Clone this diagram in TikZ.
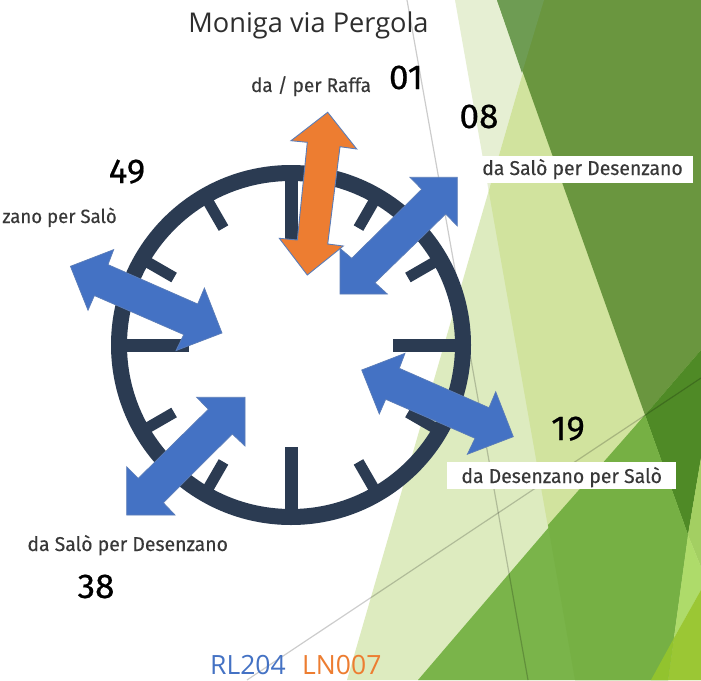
\documentclass[tikz,border=0pt]{standalone}
\usepackage{fontspec}
\usetikzlibrary{calc}
\setmainfont{Fira Sans}
\newfontfamily\titlefont{Open Sans}
\newfontfamily\labfont[FakeStretch=0.97,FakeBold=0.25]{Fira Sans}
\newfontfamily\numfont[FakeStretch=1.02,FakeBold=0.5]{Fira Sans}
\definecolor{ringcol}{HTML}{2B3B52}
\definecolor{bluecol}{HTML}{4472C4}
\definecolor{orangecol}{HTML}{ED7D31}
\definecolor{edgecol}{HTML}{5B7DB8}
\definecolor{gA}{HTML}{DDEBBF}
\definecolor{gB}{HTML}{E6EFD3}
\definecolor{gC}{HTML}{D1E39E}
\definecolor{gD}{HTML}{6A963F}
\definecolor{gE}{HTML}{6E9C53}
\definecolor{gF}{HTML}{4F8A26}
\definecolor{gG}{HTML}{7AB44A}
\definecolor{gH}{HTML}{76B044}
\definecolor{gI}{HTML}{A3CF62}
\definecolor{gJ}{HTML}{AEDB6A}
\definecolor{gK}{HTML}{9BC734}
\definecolor{gL}{HTML}{92C32E}
\tikzset{
  bg/.style={fill=#1,draw=none},
  thinline/.style={draw=black,opacity=0.2,line width=1.2pt},
  major/.style={draw=ringcol,line width=13pt},
  minor/.style={draw=ringcol,line width=11pt},
  bluearrow/.style={fill=bluecol,draw=edgecol,line width=0.7pt,line join=miter},
  orangearrow/.style={fill=orangecol,draw=edgecol,line width=0.9pt,line join=miter},
  lab/.style={font=\labfont\fontsize{20}{22}\selectfont,text=black!78,inner sep=0pt,anchor=base},
  num/.style={font=\numfont\fontsize{34.5}{36}\selectfont,text=black,inner sep=0pt,anchor=base},
  boxed/.style={fill=white,inner sep=0pt,minimum height=27pt},
  route/.style={font=\titlefont\fontsize{26.5}{30}\selectfont,inner sep=0pt,anchor=base west},
}
\begin{document}
\begin{tikzpicture}[x=1pt,y=-1pt]
\useasboundingbox (0,0) rectangle (701,680);
\fill[white] (0,0) rectangle (701,680);
% background
\fill[bg=gA] (347,680) -- (544,0) -- (701,0) -- (701,680) -- cycle;
\fill[bg=gB] (455,0) -- (544,0) -- (488.7,191) -- cycle;
\fill[bg=gC] (488.7,191) -- (544,0) -- (701,0) -- (701,680) -- (575,680) -- cycle;
\fill[bg=gD] (497,0) -- (701,0) -- (701,350) -- (645,415) -- cycle;
\fill[bg=gE] (497,0) -- (544,0) -- (522,73) -- cycle;
\fill[bg=gF] (645,415) -- (701,350) -- (701,458) -- (688,535) -- cycle;
\fill[bg=gG] (418,680) -- (645,415) -- (688,535) -- (668,680) -- cycle;
\fill[bg=gH] (548,525) -- (575,680) -- (668,680) -- (688,535) -- (645,415) -- cycle;
\fill[bg=gI] (688,535) -- (701,458) -- (701,567) -- cycle;
\fill[bg=gJ] (688,535) -- (701,567) -- (701,590) -- (674,638) -- cycle;
\fill[bg=gK] (674,638) -- (701,590) -- (701,680) -- (668,680) -- cycle;
\fill[bg=gL] (674,638) -- (668,680) -- (651,680) -- cycle;
\coordinate (la) at (407,0);
\coordinate (lb) at (528,680);
\coordinate (lc) at (247,680);
\coordinate (ld) at (701,378);
\draw[thinline] (la) -- (lb);
\draw[thinline] (lc) -- (ld);
% clock
\coordinate (c) at (291,345);
\draw[ringcol,line width=16pt] (c) circle (172);
\foreach \a in {0,90,180,270}
  \draw[major] ($(c)+(\a:102)$) -- ($(c)+(\a:170)$);
\foreach \a in {30,60,120,150,210,240,300,330}
  \draw[minor] ($(c)+(\a:135)$) -- ($(c)+(\a:170)$);
% arrows
\filldraw[orangearrow] (327.7,112.3) -- (356.7,149) -- (340,146.7) -- (327.7,244) -- (343.3,246) -- (307.3,275) -- (279.3,238.3) -- (297.3,240) -- (307.3,142.3) -- (291,140.7) -- cycle;
\filldraw[bluearrow] (457.3,177.3) -- (410,177.3) -- (421.7,189.3) -- (351.7,258.3) -- (340,248.3) -- (340,294) -- (387.3,294) -- (375,282.7) -- (445.7,214) -- (457.3,226) -- cycle;
\filldraw[bluearrow] (245,397.3) -- (196.7,397.3) -- (208.3,409.3) -- (138.3,478.3) -- (126.7,466.7) -- (126.7,515) -- (175,515) -- (163.3,502.7) -- (232.3,434) -- (245,446) -- cycle;
\filldraw[bluearrow] (361.7,370) -- (405,353.3) -- (399.3,368.3) -- (489,407.7) -- (495.7,391.7) -- (513.3,436.7) -- (467.3,454.3) -- (475,438.3) -- (385.7,399.3) -- (379.3,414) -- cycle;
\filldraw[bluearrow] (70.4,266.3) -- (113.7,249.6) -- (108,264.6) -- (197.7,304) -- (204.4,288) -- (222,333) -- (176,350.6) -- (183.7,334.6) -- (94.4,295.6) -- (88,310.3) -- cycle;
% texts
\node[font=\titlefont\fontsize{27.2}{30}\selectfont,text=black!82,inner sep=0pt,anchor=base] (title) at (308.5,32) {Moniga via Pergola};
\node[lab,font=\labfont\fontsize{19.6}{22}\selectfont] (raffa) at (311,92) {da / per Raffa};
\node[num] (n01) at (406,89) {01};
\node[num] (n08) at (479,128) {08};
\node[num] (n49) at (127,183) {49};
\node[num] (n19) at (568,440) {19};
\node[num] (n38) at (96,598) {38};
\node[boxed,minimum width=215pt] (boxa) at (585.5,169.5) {};
\node[lab] (ta) at (582.5,175) {da Salò per Desenzano};
\node[boxed,minimum width=229pt] (boxb) at (561.5,475.5) {};
\node[lab] (tb) at (561.7,483) {da Desenzano per Salò};
\node[lab,anchor=base east,font=\labfont\fontsize{19.2}{22}\selectfont] (tc) at (117,223) {zano per Salò};
\node[lab] (td) at (127.7,551) {da Salò per Desenzano};
\node[route,text=bluecol] (rl) at (210,674) {RL204};
\node[route,text=orangecol] (ln) at (302,674) {LN007};
\end{tikzpicture}
\end{document}
